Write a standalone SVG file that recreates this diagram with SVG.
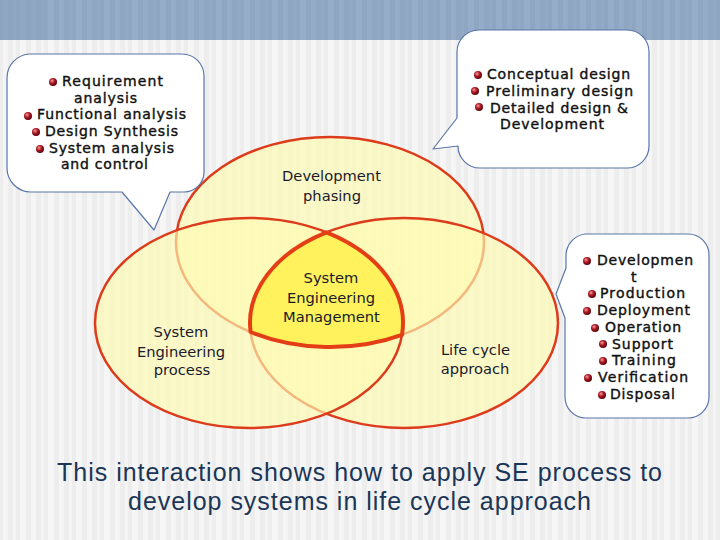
<svg xmlns="http://www.w3.org/2000/svg" width="720" height="540" viewBox="0 0 720 540">
<defs>
<pattern id="stripes" x="0" y="0" width="28" height="540" patternUnits="userSpaceOnUse">
<rect width="28" height="540" fill="#EDEDED"/>
<rect x="3" width="5" height="540" fill="#F5F5F5"/>
<rect x="13" width="3" height="540" fill="#F4F4F4"/>
<rect x="20" width="6" height="540" fill="#F6F6F6"/>
</pattern>
<pattern id="bandstripes" x="0" y="0" width="28" height="40" patternUnits="userSpaceOnUse">
<rect width="28" height="40" fill="#8EA6C2"/>
<rect x="3" width="5" height="40" fill="#94ACC7"/>
<rect x="13" width="3" height="40" fill="#92AAC5"/>
<rect x="20" width="6" height="40" fill="#95ADC8"/>
</pattern>
<radialGradient id="ball" cx="0.38" cy="0.35" r="0.65">
<stop offset="0" stop-color="#F4A0A0"/>
<stop offset="0.45" stop-color="#B3202A"/>
<stop offset="1" stop-color="#5A0008"/>
</radialGradient>
<style>
.ell{fill:#FFFAB0;fill-opacity:0.65;stroke:#DD3C1C;stroke-width:2.5}
.sem{fill:#FFF25C;stroke:#E43E16;stroke-width:4;stroke-linejoin:round}
.call{fill:#FFFFFF;stroke:#5A76AA;stroke-width:1.2;stroke-linejoin:round}
.bt{font-family:"DejaVu Sans",Verdana,sans-serif;font-size:14px;fill:#111111;stroke:#111111;stroke-width:0.4}
.lbl{font-family:"DejaVu Sans",Verdana,sans-serif;font-size:14.7px;fill:#1A1A2A;text-anchor:middle}
.cap{font-family:"Liberation Sans",Arial,sans-serif;font-size:25px;fill:#1B3557;text-anchor:middle}
.b{fill:url(#ball)}
</style>
</defs>

<g id="background">
<rect width="720" height="540" fill="url(#stripes)"/>
<rect width="720" height="40" fill="url(#bandstripes)"/>
<rect width="45" height="40" fill="#89A1BD" opacity="0.5"/>
</g>

<g id="connectors"></g>

<g id="node-development-phasing">
<ellipse class="ell" cx="330" cy="242" rx="154" ry="105"/>
</g>
<g id="node-life-cycle">
<ellipse class="ell" cx="404" cy="323" rx="154" ry="105"/>
</g>
<g id="node-se-process">
<ellipse class="ell" cx="249" cy="323" rx="154" ry="105"/>
</g>
<g id="node-sem">
<path class="sem" d="M326.5,232.3 A154,105 0 0 0 250.6,332 A154,105 0 0 0 402,334.8 A154,105 0 0 0 326.5,232.3 Z"/>
</g>

<g id="labels">
<text class="lbl" x="331.5" y="181">Development</text>
<text class="lbl" x="332" y="201">phasing</text>
<text class="lbl" x="331" y="283">System</text>
<text class="lbl" x="331" y="303">Engineering</text>
<text class="lbl" x="331.5" y="322">Management</text>
<text class="lbl" x="181" y="337">System</text>
<text class="lbl" x="181" y="357">Engineering</text>
<text class="lbl" x="182" y="375">process</text>
<text class="lbl" x="475.5" y="355">Life cycle</text>
<text class="lbl" x="475" y="374">approach</text>
</g>

<g id="callout-left">
<path class="call" d="M29,54 H182 A22,22 0 0 1 204,76 V172 A20,20 0 0 1 184,192 H170 L154,230 L122,192 H31 A24,24 0 0 1 7,168 V78 A24,24 0 0 1 29,54 Z"/>
<circle class="b" cx="53" cy="82" r="4"/>
<text class="bt" x="62" y="86" textLength="101">Requirement</text>
<text class="bt" x="74" y="103" textLength="63">analysis</text>
<circle class="b" cx="28" cy="116" r="4"/>
<text class="bt" x="37" y="119" textLength="149">Functional analysis</text>
<circle class="b" cx="36" cy="132" r="4"/>
<text class="bt" x="45" y="136" textLength="133">Design Synthesis</text>
<circle class="b" cx="40" cy="149" r="4"/>
<text class="bt" x="49" y="153" textLength="125">System analysis</text>
<text class="bt" x="61" y="169" textLength="87">and control</text>
</g>

<g id="callout-top-right">
<path class="call" d="M479,30 H627 A22,22 0 0 1 649,52 V146 A22,22 0 0 1 627,168 H480 A22,22 0 0 1 458,146 L433,149 L457,118 V52 A22,22 0 0 1 479,30 Z"/>
<circle class="b" cx="478" cy="75" r="4"/>
<text class="bt" x="487" y="79" textLength="143">Conceptual design</text>
<circle class="b" cx="475" cy="91" r="4"/>
<text class="bt" x="486" y="96" textLength="147">Preliminary design</text>
<circle class="b" cx="479" cy="107" r="4"/>
<text class="bt" x="490" y="113" textLength="138">Detailed design &amp;</text>
<text class="bt" x="500" y="129" textLength="104">Development</text>
</g>

<g id="callout-right">
<path class="call" d="M585,234 H688 A21,21 0 0 1 709,255 V397 A21,21 0 0 1 688,418 H586 A21,21 0 0 1 565,397 V318 L556,294 L566,268 V256 A22,22 0 0 1 585,234 Z"/>
<circle class="b" cx="587" cy="261" r="4"/>
<text class="bt" x="597" y="265" textLength="96">Developmen</text>
<text class="bt" x="631" y="282">t</text>
<circle class="b" cx="592" cy="294" r="4"/>
<text class="bt" x="600" y="298" textLength="85">Production</text>
<circle class="b" cx="587" cy="311" r="4"/>
<text class="bt" x="597" y="315" textLength="93">Deployment</text>
<circle class="b" cx="595" cy="328" r="4"/>
<text class="bt" x="605" y="332" textLength="76">Operation</text>
<circle class="b" cx="603" cy="344" r="4"/>
<text class="bt" x="612" y="349" textLength="61">Support</text>
<circle class="b" cx="603" cy="361" r="4"/>
<text class="bt" x="612" y="365" textLength="64">Training</text>
<circle class="b" cx="588" cy="378" r="4"/>
<text class="bt" x="598" y="382" textLength="90">Verification</text>
<circle class="b" cx="602" cy="395" r="4"/>
<text class="bt" x="610" y="399" textLength="65">Disposal</text>
</g>

<g id="caption">
<text class="cap" x="359.5" y="481" textLength="605">This interaction shows how to apply SE process to</text>
<text class="cap" x="359.5" y="510" textLength="463">develop systems in life cycle approach</text>
</g>
</svg>
